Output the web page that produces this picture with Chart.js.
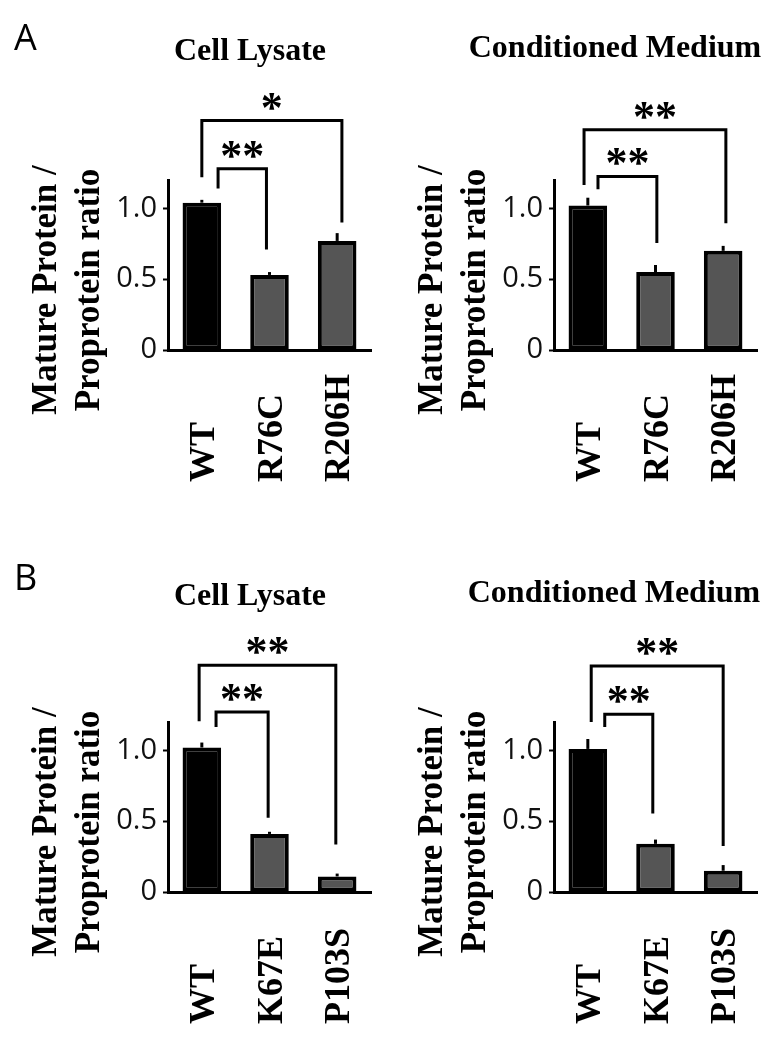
<!DOCTYPE html>
<html>
<head>
<meta charset="utf-8">
<title>Mature protein / proprotein ratio</title>
<script src="https://cdn.jsdelivr.net/npm/chart.js@4/dist/chart.umd.min.js"></script>
<style>
  html, body { margin: 0; padding: 0; background: #fff; }
  body { width: 782px; height: 1050px; position: relative; overflow: hidden; }
  canvas.panel { position: absolute; }
</style>
</head>
<body>
<canvas id="lysateA" class="panel" width="391" height="505" style="left:0;top:0"></canvas>
<canvas id="mediumA" class="panel" width="391" height="505" style="left:391px;top:0"></canvas>
<canvas id="lysateB" class="panel" width="391" height="505" style="left:0;top:542px"></canvas>
<canvas id="mediumB" class="panel" width="391" height="505" style="left:391px;top:542px"></canvas>
<script>
// categories
const labelsA = ['WT', 'R76C', 'R206H'];
const labelsB = ['WT', 'K67E', 'P103S'];

// mean ratio + upper error bar, per panel
const lysateA = [1.04, 0.53, 0.77];
const lysateAErr = [0.02, 0.02, 0.055];
const mediumA = [1.02, 0.55, 0.70];
const mediumAErr = [0.055, 0.05, 0.035];
const lysateB = [1.02, 0.41, 0.11];
const lysateBErr = [0.035, 0.015, 0.02];
const mediumB = [1.01, 0.34, 0.15];
const mediumBErr = [0.07, 0.03, 0.04];

const yTicks = [0, 0.5, 1.0];
const yTitle = ['Mature Protein /', 'Proprotein ratio'];
const barColors = ['#000000', '#555555', '#555555'];

// significance brackets (x in category index, heights in ratio units)
const lysateABrackets = [
    { from: 0.24, to: 0.955, top: 1.28, leftEnd: 1.14, rightEnd: 0.71, mark: '**' },
    { from: 0, to: 2.07, top: 1.62, leftEnd: 1.22, rightEnd: 0.90, mark: '*' }
];
const mediumABrackets = [
    { from: 0.15, to: 1.02, top: 1.225, leftEnd: 1.135, rightEnd: 0.755, mark: '**' },
    { from: -0.056, to: 2.04, top: 1.555, leftEnd: 1.165, rightEnd: 0.895, mark: '**' }
];
const lysateBBrackets = [
    { from: 0.21, to: 0.98, top: 1.27, leftEnd: 1.165, rightEnd: 0.525, mark: '**' },
    { from: -0.04, to: 1.98, top: 1.60, leftEnd: 1.205, rightEnd: 0.335, mark: '**' }
];
const mediumBBrackets = [
    { from: 0.25, to: 0.96, top: 1.255, leftEnd: 1.165, rightEnd: 0.555, mark: '**' },
    { from: 0.05, to: 2.0, top: 1.595, leftEnd: 1.2, rightEnd: 0.325, mark: '**' }
];

const serif = '"Liberation Serif", "Times New Roman", serif';

/**
 * Titre, lettre du panneau, libellés, barres d'erreur et crochets
 */
const decorPlugin = {
    id: 'decor',
    afterDraw(chart, args, opts) {
        const { ctx, chartArea } = chart;
        const x = chart.scales.x;
        const y = chart.scales.y;
        const meta = chart.getDatasetMeta(0);
        const ds = chart.data.datasets[0];

        ctx.save();
        ctx.fillStyle = '#000';
        ctx.strokeStyle = '#000';

        // lettre A / B
        if (opts.letter) {
            ctx.font = '36px "Open Sans"';
            ctx.textAlign = 'left';
            ctx.textBaseline = 'alphabetic';
            ctx.fillText(opts.letter, 14, opts.letterY);
        }

        // titre
        ctx.font = 'bold 32px ' + serif;
        ctx.textAlign = 'center';
        ctx.textBaseline = 'alphabetic';
        ctx.fillText(opts.title, opts.titleX, opts.titleY);

        // titre de l'axe y (deux lignes, tournées)
        ctx.font = 'bold 35px ' + serif;
        yTitle.forEach((line, i) => {
            ctx.save();
            ctx.translate(chartArea.left - 124 + 43 * i + 12, chartArea.bottom - 60);
            ctx.rotate(-Math.PI / 2);
            ctx.textAlign = 'center';
            ctx.fillText(line, 0, 0);
            ctx.restore();
        });

        // libellés des catégories, alignés en bas
        ctx.font = 'bold 36px ' + serif;
        chart.data.labels.forEach((label, i) => {
            ctx.save();
            ctx.translate(x.getPixelForTick(i) + 12, chartArea.bottom + 132);
            ctx.rotate(-Math.PI / 2);
            ctx.textAlign = 'left';
            ctx.fillText(label, 0, 0);
            ctx.restore();
        });

        // barres d'erreur (partie haute)
        ctx.lineWidth = 3;
        meta.data.forEach((bar, i) => {
            const top = y.getPixelForValue(ds.data[i] + ds.errors[i]);
            ctx.beginPath();
            ctx.moveTo(bar.x, bar.y);
            ctx.lineTo(bar.x, top);
            ctx.stroke();
        });

        // crochets de significativité
        ctx.lineJoin = 'miter';
        ctx.font = 'bold 44px ' + serif;
        ctx.textAlign = 'center';
        opts.brackets.forEach(b => {
            const xl = x.getPixelForValue(b.from);
            const xr = x.getPixelForValue(b.to);
            const yt = y.getPixelForValue(b.top);
            ctx.beginPath();
            ctx.moveTo(xl, y.getPixelForValue(b.leftEnd));
            ctx.lineTo(xl, yt);
            ctx.lineTo(xr, yt);
            ctx.lineTo(xr, y.getPixelForValue(b.rightEnd));
            ctx.stroke();
            ctx.fillText(b.mark, (xl + xr) / 2, yt + 1);
        });

        ctx.restore();
    }
};

function makePanel(p) {
    return new Chart(document.getElementById(p.id), {
        type: 'bar',
        data: {
            labels: p.labels,
            datasets: [{
                data: p.values,
                errors: p.errors,
                backgroundColor: barColors,
                borderColor: '#000',
                borderWidth: 4,
                borderSkipped: false,
                barPercentage: 0.57,
                categoryPercentage: 1
            }]
        },
        options: {
            responsive: false,
            animation: false,
            layout: {
                padding: { top: 180, bottom: 135, left: p.padLeft, right: p.padRight }
            },
            plugins: {
                legend: { display: false },
                tooltip: { enabled: false },
                decor: {
                    title: p.title,
                    titleX: p.titleX,
                    titleY: p.titleY,
                    letter: p.letter,
                    letterY: p.letterY,
                    brackets: p.brackets
                }
            },
            scales: {
                x: {
                    grid: { display: false },
                    border: { color: '#000', width: 3 },
                    ticks: { display: false },
                    afterFit: s => { s.height = 20; }
                },
                y: {
                    min: 0,
                    max: 1.2,
                    afterBuildTicks: s => { s.ticks = yTicks.map(v => ({ value: v })); },
                    afterFit: s => { s.width = 60; },
                    ticks: {
                        font: { family: 'Open Sans', size: 29 },
                        color: '#111',
                        padding: 6,
                        callback: v => v === 0 ? '0' : v.toFixed(1)
                    },
                    grid: { drawOnChartArea: false, tickLength: 5, tickColor: '#000', tickWidth: 2 },
                    border: { color: '#000', width: 3 }
                }
            }
        },
        plugins: [decorPlugin]
    });
}

makePanel({ id: 'lysateA', title: 'Cell Lysate', letter: 'A', letterY: 50, labels: labelsA,
    values: lysateA, errors: lysateAErr, brackets: lysateABrackets,
    padLeft: 108, padRight: 20, titleX: 250, titleY: 60 });
makePanel({ id: 'mediumA', title: 'Conditioned Medium', letter: '', labels: labelsA,
    values: mediumA, errors: mediumAErr, brackets: mediumABrackets,
    padLeft: 103, padRight: 25, titleX: 224, titleY: 57 });
makePanel({ id: 'lysateB', title: 'Cell Lysate', letter: 'B', letterY: 48, labels: labelsB,
    values: lysateB, errors: lysateBErr, brackets: lysateBBrackets,
    padLeft: 108, padRight: 20, titleX: 250, titleY: 63 });
makePanel({ id: 'mediumB', title: 'Conditioned Medium', letter: '', labels: labelsB,
    values: mediumB, errors: mediumBErr, brackets: mediumBBrackets,
    padLeft: 103, padRight: 25, titleX: 223, titleY: 60 });
</script>
</body>
</html>
